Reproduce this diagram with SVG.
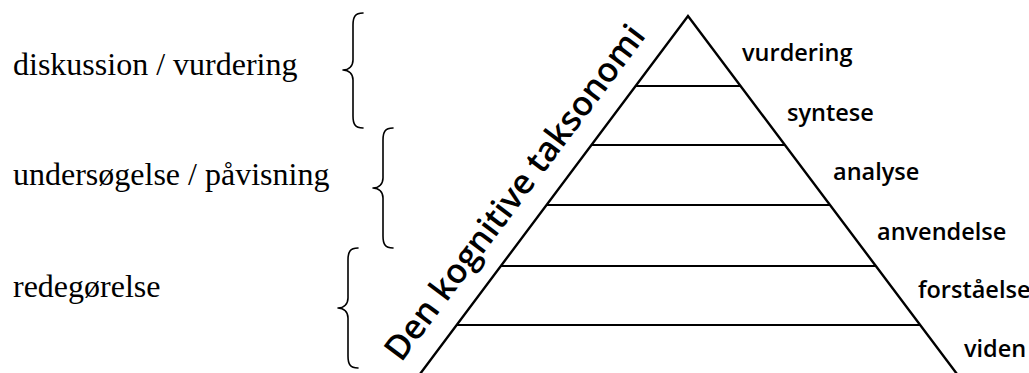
<svg xmlns="http://www.w3.org/2000/svg" width="1029" height="373" viewBox="0 0 1029 373">
<style>
.lbl{font-family:"Liberation Serif","Times New Roman",serif;font-size:32px;fill:#000}
.lvl{font-family:"Open Sans","DejaVu Sans",sans-serif;font-size:23.5px;font-weight:600;fill:#000}
.title{font-family:"Open Sans","DejaVu Sans",sans-serif;font-size:34px;font-weight:600;fill:#000}
.brace{fill:none;stroke:#000;stroke-width:1.6;stroke-linecap:round;stroke-linejoin:round}
.edge{fill:none;stroke:#000;stroke-width:2.4;stroke-linecap:butt}
.tier{fill:none;stroke:#000;stroke-width:2}
</style>
<rect width="1029" height="373" fill="#fff"/>
<g id="left-labels">
<text class="lbl" x="13" y="75">diskussion / vurdering</text>
<text class="lbl" x="13" y="185">undersøgelse / påvisning</text>
<text class="lbl" x="13" y="297">redegørelse</text>
</g>
<g id="braces">
<path class="brace" d="M363,13 C355,13 353,17 353,25 L353,60 C353,66 349,70 343,70 C349,70 353,74 353,80 L353,116 C353,124 355,128 363,128"/>
<path class="brace" d="M393,128 C385,128 383,132 383,140 L383,178 C383,184 379,188 373,188 C379,188 383,192 383,198 L383,236 C383,244 385,248 393,248"/>
<path class="brace" d="M358,248 C350,248 348,252 348,260 L348,298 C348,304 344,308 338,308 C344,308 348,312 348,318 L348,356 C348,364 350,368 358,368"/>
</g>
<g id="pyramid">
<path class="edge" d="M420,374 L688,16 L957,374"/>
<line class="tier" x1="635.5" y1="86" x2="740.5" y2="86"/>
<line class="tier" x1="591" y1="145" x2="785" y2="145"/>
<line class="tier" x1="546" y1="205" x2="830" y2="205"/>
<line class="tier" x1="500" y1="266" x2="876" y2="266"/>
<line class="tier" x1="456" y1="325" x2="920" y2="325"/>
</g>
<g id="title">
<text class="title" text-anchor="middle" transform="translate(524,199.5) rotate(-53.1)">Den kognitive taksonomi</text>
</g>
<g id="levels">
<text class="lvl" x="742" y="61">vurdering</text>
<text class="lvl" x="787" y="121">syntese</text>
<text class="lvl" x="833" y="180">analyse</text>
<text class="lvl" x="877" y="240">anvendelse</text>
<text class="lvl" x="918" y="298">forståelse</text>
<text class="lvl" x="964" y="357">viden</text>
</g>
</svg>
